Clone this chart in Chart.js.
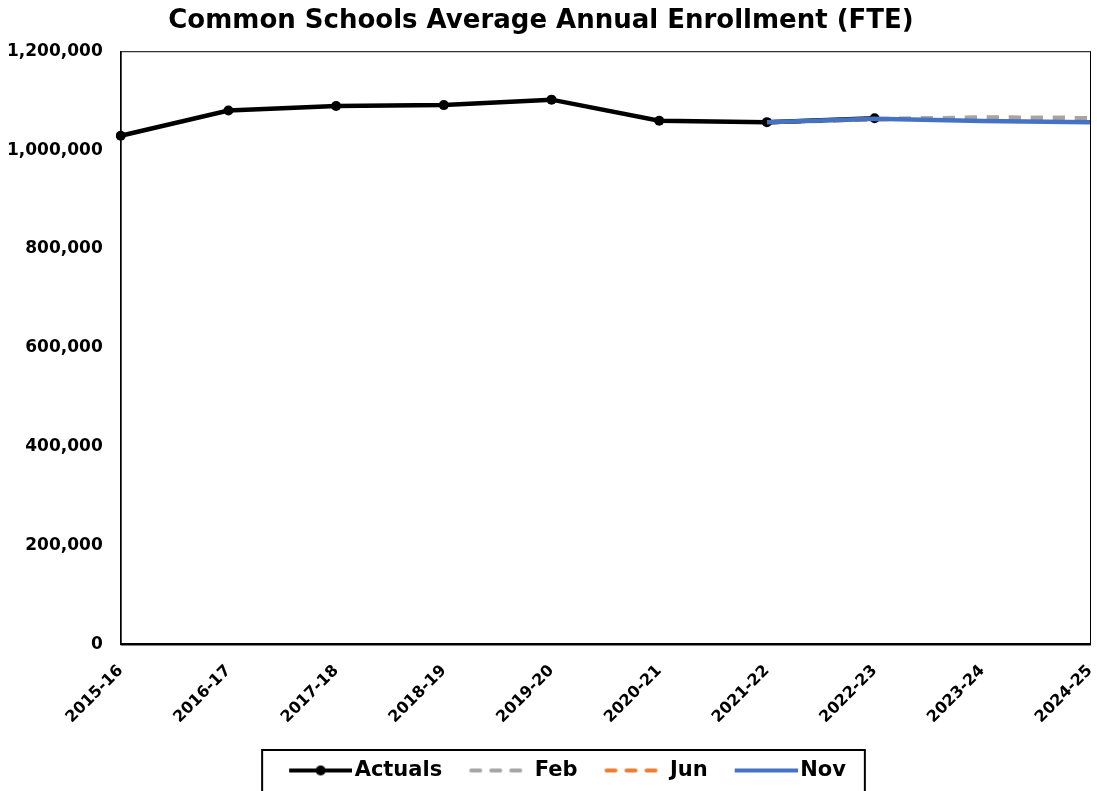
<!DOCTYPE html>
<html>
<head>
<meta charset="utf-8">
<script src="https://cdn.jsdelivr.net/npm/chart.js@4/dist/chart.umd.min.js"></script>
<style>
  html, body { margin: 0; padding: 0; background: #fff; }
  #wrap { width: 1097px; height: 791px; }
</style>
</head>
<body>
<div id="wrap"><canvas id="myChart"></canvas></div>
<script>
var years = ['2015-16', '2016-17', '2017-18', '2018-19', '2019-20', '2020-21', '2021-22', '2022-23', '2023-24', '2024-25'];
var actuals = [1029000, 1080000, 1089000, 1091000, 1102000, 1059500, 1056500, 1064500, null, null];
var feb = [null, null, null, null, null, null, 1056500, 1063000, 1066000, 1065000];
var jun = [null, null, null, null, null, null, 1055500, 1062000, 1066000, 1065000];
var nov = [null, null, null, null, null, null, 1056500, 1063500, 1059000, 1056500];
var yTicks = [0, 200000, 400000, 600000, 800000, 1000000, 1200000];

var fontFam = "'DejaVu Sans', Verdana, sans-serif";

// legend swatches. box is 64 wide; the 63px line starts 9px in and
// runs on to 2px before the label text
function swatch(color, dashed, dot) {
  var c = document.createElement('canvas');
  c.width = 80; c.height = 12;
  var g = c.getContext('2d');
  g.strokeStyle = color;
  g.lineWidth = 4;
  g.lineCap = dashed ? 'round' : 'butt';
  if (dashed) g.setLineDash([9, 11]);
  g.beginPath();
  g.moveTo(dashed ? 19 : 17, 6);
  g.lineTo(dashed ? 78 : 80, 6);
  g.stroke();
  if (dot) {
    g.fillStyle = color;
    g.beginPath();
    g.arc(48.5, 6, 5, 0, Math.PI * 2);
    g.fill();
  }
  return c;
}

var frame = {
  id: 'frame',
  afterLayout: function(chart) {
    chart.legend.left += 14;
    chart.legend.right += 14;
    chart.titleBlock.left -= 8;
    chart.titleBlock.right -= 8;
  },
  afterDraw: function(chart) {
    var ctx = chart.ctx;
    var a = chart.chartArea;
    ctx.save();
    ctx.strokeStyle = '#000';
    ctx.lineWidth = 1;
    ctx.strokeRect(a.left + 0.5, a.top + 0.5, a.right - a.left, a.bottom - a.top);
    var boxes = chart.legend.legendHitBoxes;
    if (boxes && boxes.length) {
      var l = boxes[0].left + 9 - 27;
      var r = boxes[boxes.length - 1].left + boxes[boxes.length - 1].width + 19;
      ctx.lineWidth = 2;
      ctx.strokeRect(l, 750, r - l, 60);
    }
    ctx.restore();
  }
};

var ctx = document.getElementById('myChart');
var myChart = new Chart(ctx, {
  type: 'line',
  data: {
    labels: years,
    datasets: [
      {
        label: 'Actuals',
        data: actuals,
        borderColor: '#000',
        backgroundColor: '#000',
        borderWidth: 4.5,
        pointRadius: 5,
        pointHoverRadius: 5,
        pointBorderWidth: 0,
        fill: false,
        order: 1,
        swatch: swatch('#000', false, true)
      },
      {
        label: 'Feb',
        data: feb,
        borderColor: '#a5a5a5',
        backgroundColor: '#a5a5a5',
        borderWidth: 4,
        borderDash: [12, 10],
        pointRadius: 0,
        fill: false,
        order: 2,
        swatch: swatch('#a5a5a5', true, false)
      },
      {
        label: 'Jun',
        data: jun,
        borderColor: '#ed7d31',
        backgroundColor: '#ed7d31',
        borderWidth: 4,
        borderDash: [12, 10],
        pointRadius: 0,
        fill: false,
        order: 3,
        swatch: swatch('#ed7d31', true, false)
      },
      {
        label: 'Nov',
        data: nov,
        borderColor: '#4472c4',
        backgroundColor: '#4472c4',
        borderWidth: 4.5,
        pointRadius: 0,
        fill: false,
        order: 0,
        swatch: swatch('#4472c4', false, false)
      }
    ]
  },
  options: {
    responsive: true,
    maintainAspectRatio: false,
    animation: false,
    layout: { padding: { left: 8, right: 7, top: 0, bottom: 0 } },
    plugins: {
      title: {
        display: true,
        text: 'Common Schools Average Annual Enrollment (FTE)',
        color: '#000',
        font: { family: fontFam, size: 26, weight: 'bold' },
        padding: { top: 6, bottom: 14 }
      },
      legend: {
        position: 'bottom',
        labels: {
          color: '#000',
          font: { family: fontFam, size: 21, weight: 'bold' },
          usePointStyle: true,
          pointStyleWidth: 64,
          padding: 18,
          generateLabels: function(chart) {
            return chart.data.datasets.map(function(ds, i) {
              return {
                text: ds.label,
                pointStyle: ds.swatch,
                fillStyle: ds.borderColor,
                strokeStyle: ds.borderColor,
                lineWidth: 0,
                fontColor: '#000',
                hidden: false,
                datasetIndex: i
              };
            });
          }
        }
      },
      tooltip: { enabled: false }
    },
    scales: {
      x: {
        offset: false,
        grid: { display: false, drawTicks: false },
        border: { display: true, color: '#000', width: 2 },
        ticks: {
          color: '#000',
          font: { family: fontFam, size: 16, weight: 'bold' },
          maxRotation: 45,
          minRotation: 45,
          padding: 17
        },
        afterFit: function(axis) {
          axis.paddingRight = 0;
          axis.paddingLeft = 0;
          axis.height -= 2;
        }
      },
      y: {
        min: 0,
        max: 1200000,
        afterBuildTicks: function(axis) {
          axis.ticks = yTicks.map(function(v) { return { value: v }; });
        },
        grid: { display: false, drawTicks: false },
        border: { display: true, color: '#000', width: 1 },
        ticks: {
          color: '#000',
          font: { family: fontFam, size: 17, weight: 'bold' },
          padding: 18
        },
        afterFit: function(axis) { axis.width -= 19; }
      }
    }
  },
  plugins: [frame]
});
</script>
</body>
</html>
